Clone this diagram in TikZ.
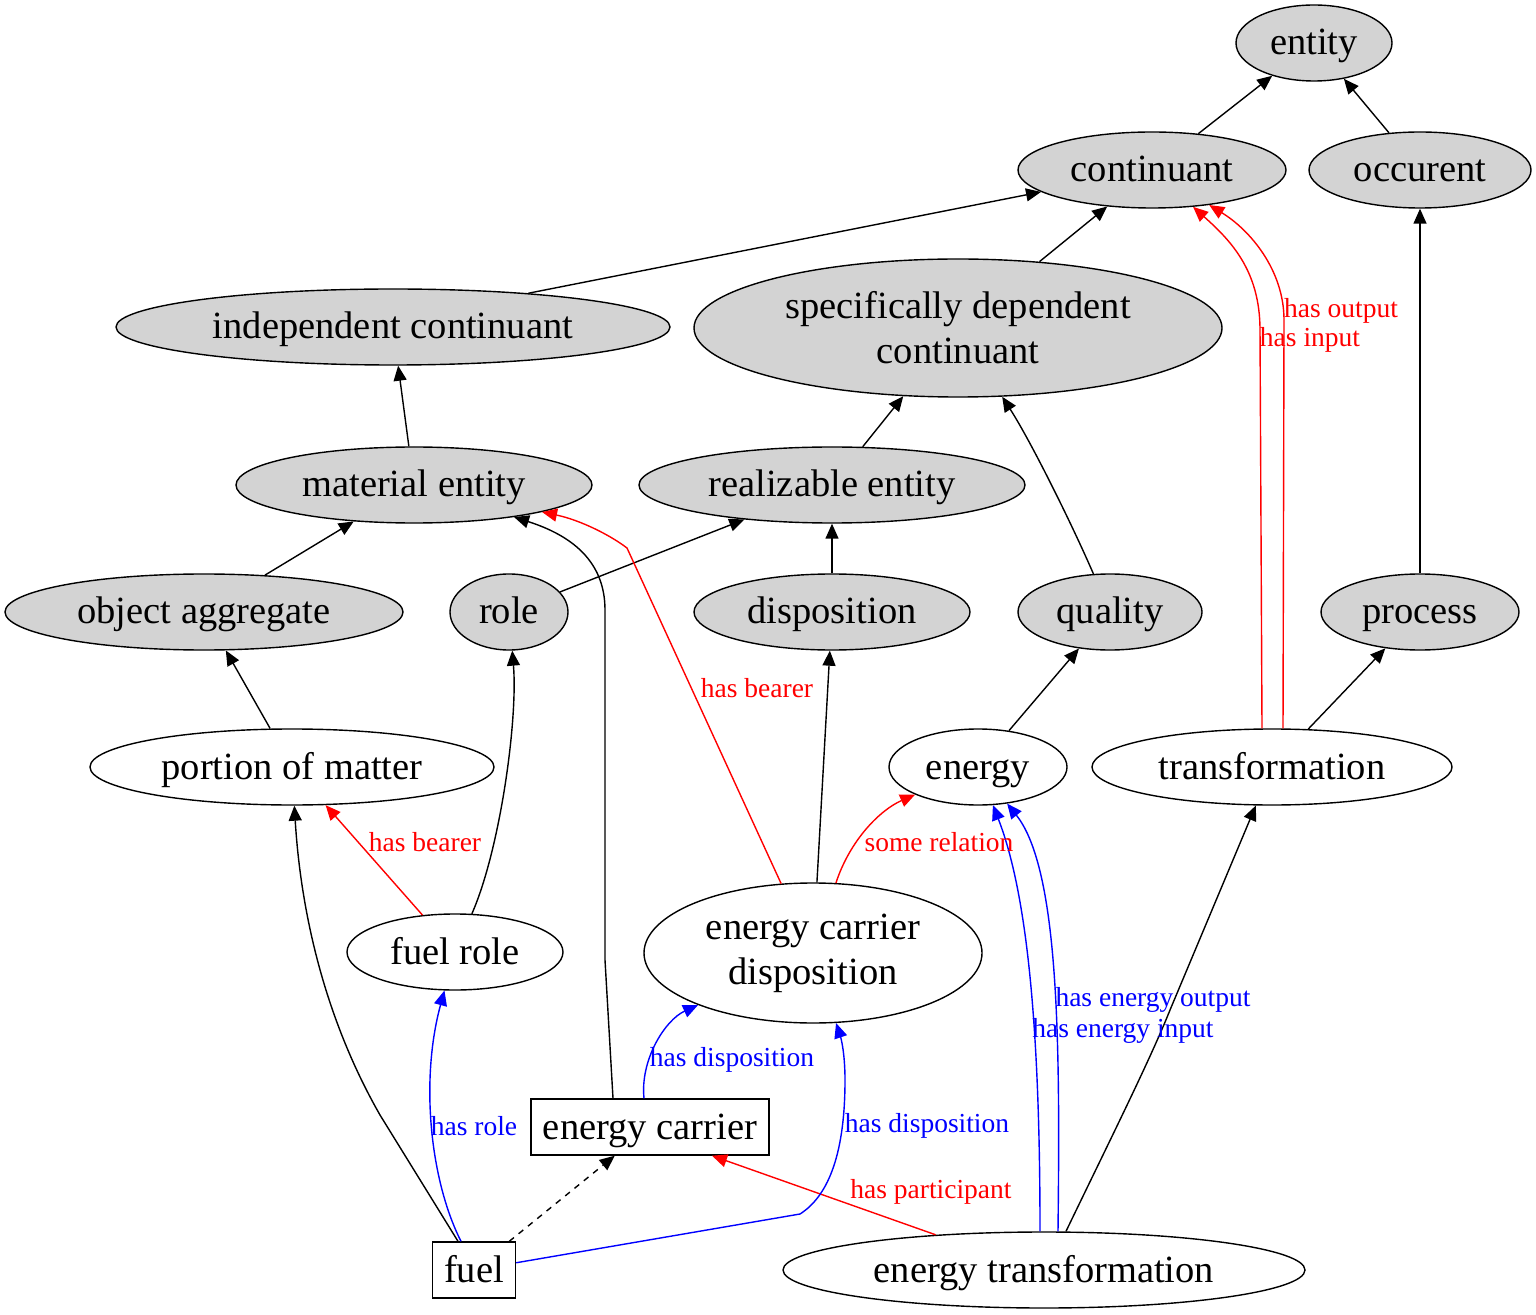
\documentclass[tikz,border=0pt]{standalone}
\usepackage{fontspec}
\setmainfont{Liberation Serif}
\usetikzlibrary{shapes.geometric,arrows.meta,calc}
\begin{document}
\begin{tikzpicture}[x=0.5pt,y=-0.5pt,
  base/.style={inner sep=0pt,font=\fontsize{19.25}{22.5}\selectfont,align=center,line width=0.7pt},
  one/.style={text height=14pt,text depth=2pt},
  cls/.style={base,ellipse,draw,fill={rgb,255:red,211;green,211;blue,211}},
  ind/.style={base,ellipse,draw,fill=white},
  bx/.style={base,one,rectangle,draw,fill=white,minimum height=28pt},
  edge/.style={line width=0.7pt,-{Triangle[length=7.5pt,width=6.5pt]}},
  lab/.style={inner sep=0pt,font=\fontsize{13.75}{15}\selectfont},
  rl/.style={lab,text=red},
  bl/.style={lab,text=blue}]
\useasboundingbox (0,0) rectangle (1536,1315);
% nodes
\node[cls,one,minimum width=78pt,minimum height=38pt] (ent) at (1314,43) {entity};
\node[cls,one,minimum width=134pt,minimum height=38pt] (con) at (1152,170) {continuant};
\node[cls,one,minimum width=111pt,minimum height=38pt] (occ) at (1420,170) {occurent};
\node[cls,one,minimum width=277pt,minimum height=38pt] (ic) at (393,327) {independent continuant};
\node[cls,minimum width=264pt,minimum height=69pt] (sdc) at (958,328) {specifically dependent\\continuant};
\node[cls,one,minimum width=178pt,minimum height=38pt] (me) at (414,485) {material entity};
\node[cls,one,minimum width=193pt,minimum height=38pt] (re) at (832,485) {realizable entity};
\node[cls,one,minimum width=199pt,minimum height=38pt] (oa) at (204,612) {object aggregate};
\node[cls,one,minimum width=59pt,minimum height=38pt] (role) at (509,612) {role};
\node[cls,one,minimum width=138pt,minimum height=38pt] (disp) at (832,612) {disposition};
\node[cls,one,minimum width=92pt,minimum height=38pt] (qual) at (1110,612) {quality};
\node[cls,one,minimum width=99pt,minimum height=38pt] (proc) at (1420,612) {process};
\node[ind,one,minimum width=202pt,minimum height=38pt] (pom) at (292,767) {portion of matter};
\node[ind,one,minimum width=89pt,minimum height=38pt] (en) at (978,767) {energy};
\node[ind,one,minimum width=180pt,minimum height=38pt] (tr) at (1272,767) {transformation};
\node[ind,one,minimum width=108pt,minimum height=38pt] (fr) at (455,952) {fuel role};
\node[ind,minimum width=169pt,minimum height=70pt] (ecd) at (813,953) {energy carrier\\disposition};
\node[bx,minimum width=119pt] (ec) at (650,1127) {energy carrier};
\node[bx,minimum width=41.5pt] (fuel) at (474,1270) {fuel};
\node[ind,one,minimum width=261pt,minimum height=38pt] (et) at (1044,1270) {energy transformation};
% black is_a edges
\draw[edge] (con) -- (ent);
\draw[edge] (occ) -- (ent);
\draw[edge] (ic.14) -- (con);
\draw[edge] (sdc) -- (con);
\draw[edge] (me) -- (ic);
\draw[edge] (re) -- (sdc);
\draw[edge] (qual) .. controls (1070,520) and (1030,440) .. (sdc);
\draw[edge] (oa) -- (me);
\draw[edge] (role) -- (re);
\draw[edge] (disp) -- (re);
\draw[edge] (proc) -- (occ);
\draw[edge] (pom) -- (oa);
\draw[edge] (en) -- (qual);
\draw[edge] (tr) -- (proc);
\draw[edge] (fr) .. controls (500,850) and (518,720) .. (role);
\draw[edge] (ecd) -- (disp);
\draw[edge] ($(ec.north)+(-37,0)$) -- (605,960) -- (605,610) .. controls (605,560) and (570,535) .. (me);
\draw[edge] ($(fuel.north)+(-16,0)$) -- (380,1115) .. controls (320,1010) and (300,900) .. (pom);
\draw[edge,dashed] (fuel) -- (ec);
\draw[edge] ($(et.north)+(22,0)$) .. controls (1110,1140) and (1150,1060) .. (1170,1010) -- (tr);
% red edges
\draw[edge,red] ($(tr.north)+(-10,0)$) -- (1260,330) .. controls (1260,270) and (1230,240) .. (con);
\draw[edge,red] ($(tr.north)+(11,0)$) -- (1284,320) .. controls (1284,270) and (1250,230) .. (con);
\draw[edge,red] (fr) -- (pom);
\draw[edge,red] (ecd) -- (627,548) .. controls (610,535) and (580,520) .. (me);
\draw[edge,red] (ecd) .. controls (850,840) and (880,810) .. (en);
\draw[edge,red] (et.162) -- ($(ec.south)+(62,0)$);
% blue edges
\draw[edge,blue] ($(ec.north)+(-6,0)$) .. controls (640,1060) and (665,1020) .. (ecd);
\draw[edge,blue] ($(fuel.north)+(-13,0)$) .. controls (430,1180) and (420,1080) .. (fr);
\draw[edge,blue] (fuel) -- (800,1214) .. controls (830,1195) and (845,1150) .. (845,1080) .. controls (845,1050) and (840,1035) .. (ecd);
\draw[edge,blue] ($(et.north)+(-4,0)$) .. controls (1040,1050) and (1030,900) .. (en);
\draw[edge,blue] ($(et.north)+(14,0)$) .. controls (1060,1050) and (1060,870) .. (en);
% labels
\node[rl] (l1) at (1341,311) {has output};
\node[rl] (l2) at (1310,340) {has input};
\node[rl] (l3) at (757,688) {has bearer};
\node[rl] (l4) at (425,842) {has bearer};
\node[rl] (l5) at (939,842) {some relation};
\node[bl] (l6) at (732,1060) {has disposition};
\node[bl] (l7) at (474,1126) {has role};
\node[bl] (l8) at (927,1126) {has disposition};
\node[rl] (l9) at (931,1192) {has participant};
\node[bl] (l10) at (1153,1000) {has energy output};
\node[bl] (l11) at (1123,1031) {has energy input};
\end{tikzpicture}
\end{document}
